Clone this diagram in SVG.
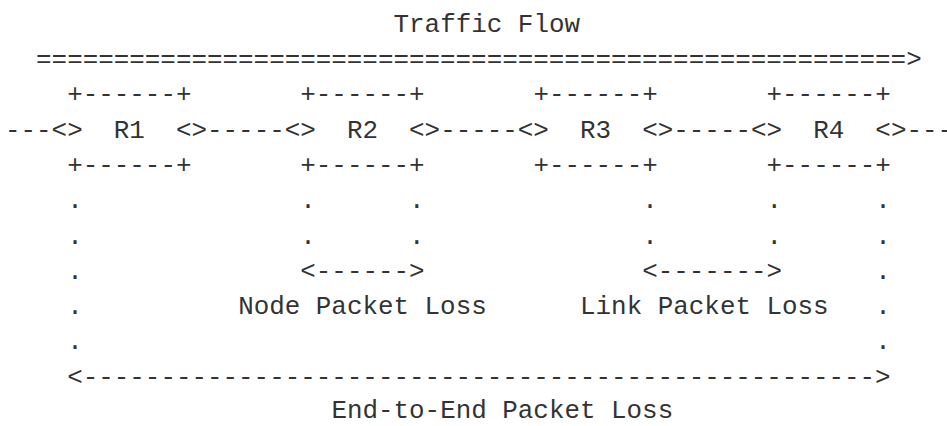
<svg xmlns="http://www.w3.org/2000/svg" width="947" height="426" viewBox="0 0 947 426">
<style>
text{font-family:"Liberation Mono","DejaVu Sans Mono",monospace;font-size:25.9px;fill:#333;white-space:pre}
</style>
<rect width="947" height="426" fill="#fff"/>
<g id="title">
<text x="393.55" y="31.7">Traffic Flow</text>
<text x="36.08" y="67">========================================================&gt;</text>
</g>
<g id="R1">
<text x="67.17" y="102.3">+------+</text>
<text x="113.79" y="137.6">R1</text>
<text x="67.17" y="172.9">+------+</text>
</g>
<g id="R2">
<text x="300.30" y="102.3">+------+</text>
<text x="346.92" y="137.6">R2</text>
<text x="300.30" y="172.9">+------+</text>
</g>
<g id="R3">
<text x="533.43" y="102.3">+------+</text>
<text x="580.05" y="137.6">R3</text>
<text x="533.43" y="172.9">+------+</text>
</g>
<g id="R4">
<text x="766.56" y="102.3">+------+</text>
<text x="813.18" y="137.6">R4</text>
<text x="766.56" y="172.9">+------+</text>
</g>
<g id="connectors">
<text x="5" y="137.6">---&lt;&gt;</text>
<text x="175.96" y="137.6">&lt;&gt;-----&lt;&gt;</text>
<text x="409.09" y="137.6">&lt;&gt;-----&lt;&gt;</text>
<text x="642.22" y="137.6">&lt;&gt;-----&lt;&gt;</text>
<text x="875.35" y="137.6">&lt;&gt;---</text>
</g>
<g id="measurements">
<text x="67.17" y="208.2">.</text><text x="300.30" y="208.2">.</text><text x="409.09" y="208.2">.</text><text x="642.22" y="208.2">.</text><text x="766.56" y="208.2">.</text><text x="875.35" y="208.2">.</text>
<text x="67.17" y="243.5">.</text><text x="300.30" y="243.5">.</text><text x="409.09" y="243.5">.</text><text x="642.22" y="243.5">.</text><text x="766.56" y="243.5">.</text><text x="875.35" y="243.5">.</text>
<text x="67.17" y="278.8">.</text>
<text x="300.30" y="278.8">&lt;------&gt;</text>
<text x="642.22" y="278.8">&lt;-------&gt;</text>
<text x="875.35" y="278.8">.</text>
<text x="67.17" y="314.1">.</text>
<text x="238.13" y="314.1">Node Packet Loss</text>
<text x="580.05" y="314.1">Link Packet Loss</text>
<text x="875.35" y="314.1">.</text>
<text x="67.17" y="349.4">.</text>
<text x="875.35" y="349.4">.</text>
<text x="67.17" y="384.7">&lt;---------------------------------------------------&gt;</text>
<text x="331.38" y="418">End-to-End Packet Loss</text>
</g>
</svg>
